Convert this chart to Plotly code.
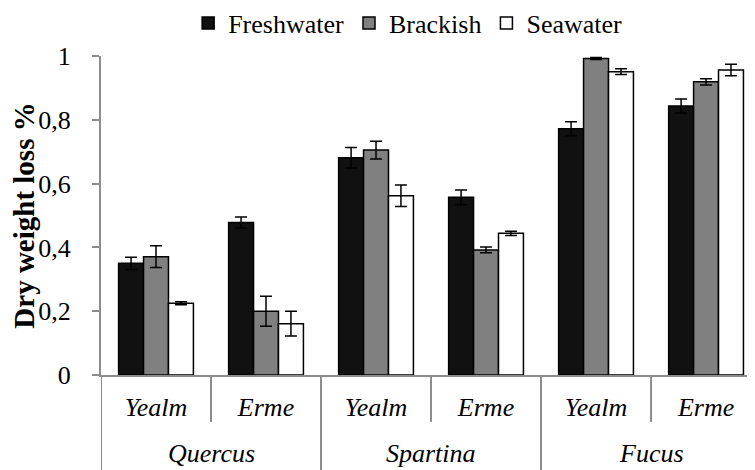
import plotly.graph_objects as go

# Dry weight loss by litter type, estuary and salinity treatment
species = ["Quercus", "Quercus", "Spartina", "Spartina", "Fucus", "Fucus"]
sites = ["Yealm", "Erme", "Yealm", "Erme", "Yealm", "Erme"]

freshwater = [0.350, 0.478, 0.681, 0.557, 0.772, 0.843]
freshwater_err = [0.019, 0.017, 0.032, 0.023, 0.022, 0.022]
brackish = [0.371, 0.200, 0.705, 0.392, 0.992, 0.919]
brackish_err = [0.034, 0.047, 0.028, 0.009, 0.003, 0.010]
seawater = [0.225, 0.161, 0.562, 0.444, 0.951, 0.956]
seawater_err = [0.005, 0.039, 0.034, 0.007, 0.009, 0.018]

y_ticks = [0, 0.2, 0.4, 0.6, 0.8, 1]
y_labels = ["0", "0,2", "0,4", "0,6", "0,8", "1"]

FONT = "Liberation Serif"
GRAY = "#8c8c8c"

cats = [f"{s} {t}" for s, t in zip(species, sites)]

series = [
    ("Freshwater", freshwater, freshwater_err, "#111111"),
    ("Brackish", brackish, brackish_err, "#808080"),
    ("Seawater", seawater, seawater_err, "#ffffff"),
]

fig = go.Figure()
for name, vals, errs, col in series:
    fig.add_trace(go.Bar(
        x=cats,
        y=vals,
        name=name,
        marker=dict(color=col, line=dict(color="#000000", width=1.5)),
        error_y=dict(type="data", array=errs, visible=True,
                     color="#000000", thickness=1.5, width=6),
    ))

# category dividers and species labels under the axis
groups = []
for i, sp in enumerate(species):
    if not groups or groups[-1][0] != sp:
        groups.append([sp, i, i])
    else:
        groups[-1][2] = i

for i in range(len(cats) - 1):
    if species[i] == species[i + 1]:
        fig.add_shape(type="line", xref="x", yref="paper",
                      x0=i + 0.5, x1=i + 0.5, y0=0, y1=-0.147,
                      line=dict(color=GRAY, width=2))
for sp, a, b in groups:
    for edge in (a - 0.5, b + 0.5):
        fig.add_shape(type="line", xref="x", yref="paper",
                      x0=edge, x1=edge, y0=0, y1=-0.3,
                      line=dict(color=GRAY, width=2))
    fig.add_annotation(text=sp, xref="x", yref="paper", x=(a + b) / 2, y=-0.245,
                       showarrow=False, yanchor="middle",
                       font=dict(family=FONT, size=26, style="italic"))

# page body adds an 8px margin, so the figure is 8px smaller than the window
fig.update_layout(
    width=747, height=462,
    margin=dict(l=93, r=0, t=48, b=95, autoexpand=False),
    barmode="group",
    bargap=0.32,
    bargroupgap=0,
    plot_bgcolor="white",
    paper_bgcolor="white",
    font=dict(family=FONT, size=26, color="#000000"),
    showlegend=True,
    legend=dict(orientation="h", xref="container", x=0.535, xanchor="center",
                yref="paper", y=1.103, yanchor="middle",
                font=dict(family=FONT, size=26),
                itemclick=False),
)

fig.update_xaxes(
    automargin=False,
    range=[-0.5, 5.445],
    tickvals=cats, ticktext=sites,
    showline=True, linecolor=GRAY, linewidth=2,
    ticks="",
    tickfont=dict(family=FONT, size=26, style="italic"),
    ticklabelstandoff=8,
    showgrid=False,
)

fig.update_yaxes(
    automargin=False,
    range=[0, 1],
    tickvals=y_ticks, ticktext=y_labels,
    showline=True, linecolor=GRAY, linewidth=2,
    ticks="outside", ticklen=7, tickcolor=GRAY, tickwidth=2,
    ticklabelstandoff=16,
    showgrid=False, zeroline=False,
    tickfont=dict(family=FONT, size=26),
    title=dict(text="<b>Dry weight loss %</b>",
               font=dict(family=FONT, size=29), standoff=0),
)

fig.write_html("out.html")
